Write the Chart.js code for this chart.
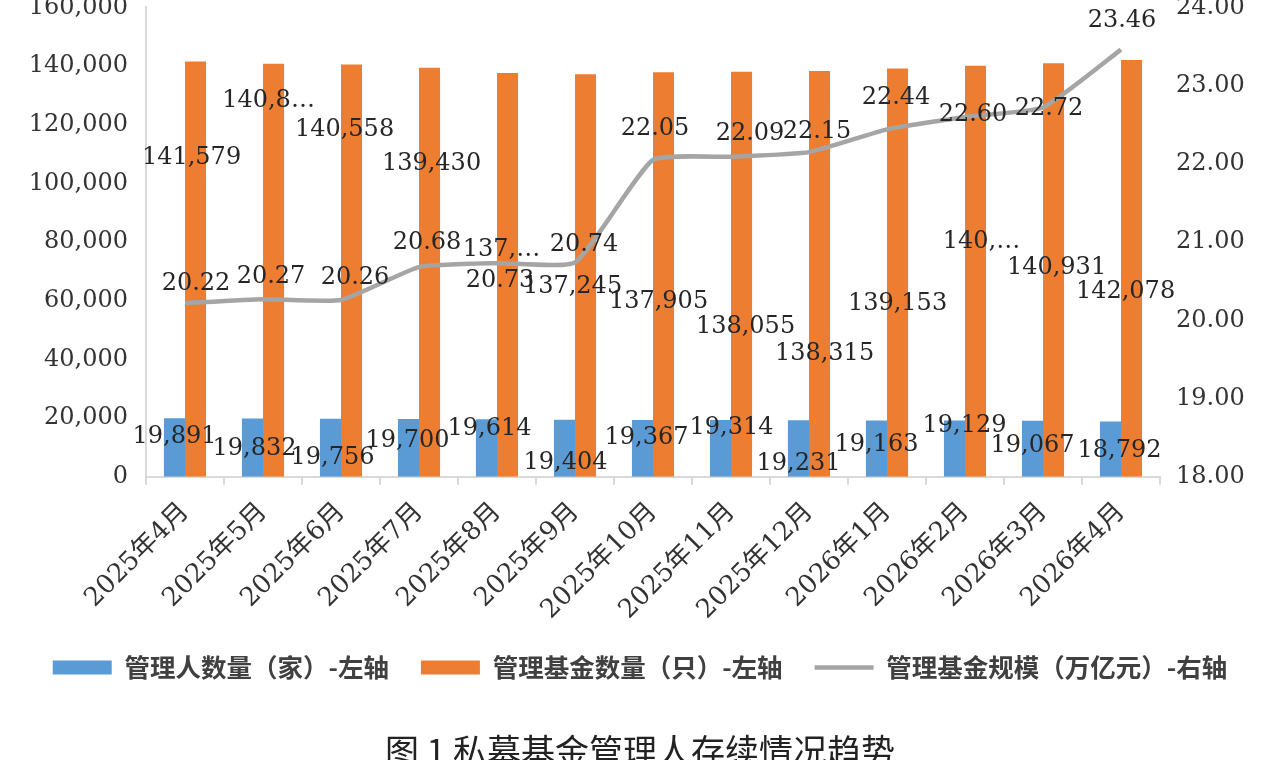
<!DOCTYPE html>
<html lang="zh-CN">
<head>
<meta charset="UTF-8">
<title>私募基金管理人存续情况趋势</title>
<script src="https://cdn.jsdelivr.net/npm/chart.js@4"></script>
<style>
  html, body { margin: 0; padding: 0; background: #fff; overflow: hidden; }
  #wrap { position: absolute; left: 0; top: -25px; width: 1280px; height: 800px; }
</style>
</head>
<body>
<div id="wrap"><canvas id="chart"></canvas></div>
<script>
    const months = ['2025年4月', '2025年5月', '2025年6月', '2025年7月', '2025年8月', '2025年9月', '2025年10月',
        '2025年11月', '2025年12月', '2026年1月', '2026年2月', '2026年3月', '2026年4月'];
    const managers = [19891, 19832, 19756, 19700, 19614, 19404, 19367, 19314, 19231, 19163, 19129, 19067, 18792];
    const funds = [141579, 140830, 140558, 139430, 137600, 137245, 137905, 138055, 138315, 139153, 140080, 140931, 142078];
    const fundScale = [20.22, 20.27, 20.26, 20.68, 20.73, 20.74, 22.05, 22.09, 22.15, 22.44, 22.60, 22.72, 23.46];

    // some labels are cut short in the source ("140,8…"), keep that many characters
    const fundCut = [0, 5, 0, 0, 4, 0, 0, 0, 0, 0, 4, 0, 0];

    // hand-placed label nudges [dx, dy] in px, relative to bar top / line point
    const managerShift = [[0, 18], [2, 30], [2, 39], [-1, 22], [3, 10], [1, 43], [4, 18], [11, 8], [0, 43], [0, 24], [10, 5], [0, 25], [9, 29]];
    const fundShift = [[-4, 96], [-5, 37], [-7, 65], [2, 96], [-6, 177], [-13, 213], [-5, 230], [4, 255], [5, 283], [0, 235], [6, 176], [3, 204], [-6, 232]];
    const scaleShift = [[11, -19], [8, -22], [14, -22], [8, -24], [3, 18], [9, -18], [2, -31], [19, -23], [8, -20], [9, -32], [8, -2], [6, 1], [1, -29]];

    const numFont = '"DejaVu Serif", "Noto Sans CJK SC", serif';
    const cjkFont = '"Noto Sans CJK SC", sans-serif';

    function withCommas(v) {
        return String(v).replace(/\B(?=(\d{3})+(?!\d))/g, ',');
    }

    const valueLabels = {
        id: 'valueLabels',
        afterDatasetsDraw(chart) {
            const ctx = chart.ctx;
            ctx.save();
            ctx.font = '24px ' + numFont;
            ctx.fillStyle = '#262626';
            ctx.textAlign = 'center';
            ctx.textBaseline = 'middle';
            chart.data.datasets.forEach((ds, di) => {
                chart.getDatasetMeta(di).data.forEach((el, i) => {
                    const shift = ds.labelShift[i];
                    ctx.fillText(ds.labelText(ds.data[i], i), el.x + shift[0], el.y + shift[1]);
                });
            });
            ctx.restore();
        }
    };

    const ctx = document.getElementById('chart').getContext('2d');
    const chart = new Chart(ctx, {
        type: 'bar',
        data: {
            labels: months,
            datasets: [{
                label: '管理人数量（家）-左轴',
                data: managers,
                backgroundColor: '#5B9BD5',
                yAxisID: 'y',
                categoryPercentage: 0.54,
                barPercentage: 1.0,
                pointStyle: 'rect',
                labelShift: managerShift,
                labelText: v => withCommas(v)
            }, {
                label: '管理基金数量（只）-左轴',
                data: funds,
                backgroundColor: '#ED7D31',
                yAxisID: 'y',
                categoryPercentage: 0.54,
                barPercentage: 1.0,
                pointStyle: 'rect',
                labelShift: fundShift,
                labelText: (v, i) => fundCut[i] ? withCommas(v).slice(0, fundCut[i]) + '…' : withCommas(v)
            }, {
                type: 'line',
                label: '管理基金规模（万亿元）-右轴',
                data: fundScale,
                borderColor: '#A5A5A5',
                backgroundColor: '#A5A5A5',
                borderWidth: 4.5,
                tension: 0.15,
                pointRadius: 0,
                pointStyle: 'line',
                yAxisID: 'y1',
                order: -1,
                labelShift: scaleShift,
                labelText: v => v.toFixed(2)
            }]
        },
        options: {
            responsive: true,
            maintainAspectRatio: false,
            animation: false,
            layout: { padding: 0 },
            plugins: {
                legend: {
                    position: 'bottom',
                    labels: {
                        usePointStyle: true,
                        pointStyleWidth: 59,
                        boxHeight: 14,
                        padding: 32,
                        color: '#404040',
                        font: { family: cjkFont, size: 25.5, weight: 'bold' },
                        sort: (a, b) => a.datasetIndex - b.datasetIndex
                    }
                },
                title: {
                    display: true,
                    position: 'bottom',
                    text: '图 1 私募基金管理人存续情况趋势',
                    color: '#222',
                    font: { family: cjkFont, size: 34, weight: 'normal' },
                    padding: { top: 40, bottom: 4 }
                },
                tooltip: { enabled: false }
            },
            scales: {
                x: {
                    grid: { display: true, drawOnChartArea: false, drawTicks: true, tickLength: 8, color: '#d9d9d9', lineWidth: 2 },
                    border: { display: true, color: '#d9d9d9', width: 2 },
                    ticks: {
                        autoSkip: false, minRotation: 45, maxRotation: 45, padding: 12,
                        color: '#333', font: { family: numFont, size: 26 }
                    },
                    afterFit: scale => { scale.height = 146; }
                },
                y: {
                    position: 'left',
                    min: 0, max: 160000,
                    grid: { display: false, drawTicks: false },
                    border: { display: true, color: '#d9d9d9', width: 2 },
                    ticks: { stepSize: 20000, padding: 18, color: '#333', font: { family: numFont, size: 24 }, callback: v => withCommas(v) },
                    afterFit: scale => { scale.width = 146; }
                },
                y1: {
                    position: 'right',
                    min: 18, max: 24,
                    grid: { display: false, drawTicks: false },
                    border: { display: false },
                    ticks: { stepSize: 1, padding: 16, color: '#333', font: { family: numFont, size: 24 }, callback: v => v.toFixed(2) },
                    afterFit: scale => { scale.width = 120; }
                }
            }
        },
        plugins: [valueLabels]
    });
</script>
</body>
</html>
